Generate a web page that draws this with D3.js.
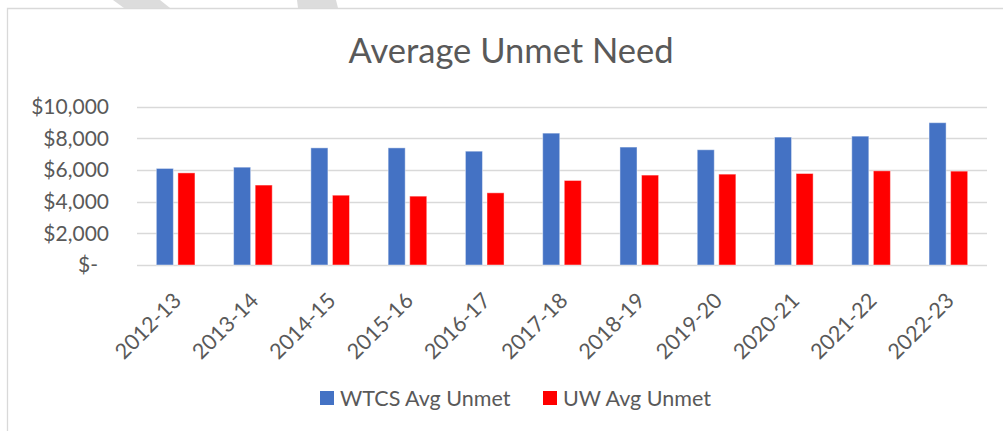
<!DOCTYPE html>
<html>

<head>
    <meta charset="utf-8">
    <style>
    body { margin: 0; background: #fff; }
    svg text { font-family: Lato, "Open Sans", sans-serif; fill: #595959; }
    .grid line { stroke: #d9d9d9; stroke-width: 1.3px; }
    </style>
</head>

<body>
    <script src="https://d3js.org/d3.v7.min.js"></script>
    <script>
    var width = 1003, height = 431;

    // data
    var years = ["2012-13", "2013-14", "2014-15", "2015-16", "2016-17", "2017-18",
                 "2018-19", "2019-20", "2020-21", "2021-22", "2022-23"];
    var wtcs = [6100, 6180, 7400, 7400, 7190, 8330, 7450, 7280, 8080, 8140, 8990];
    var uw = [5820, 5050, 4410, 4350, 4560, 5340, 5680, 5740, 5780, 5950, 5930];
    var seriesNames = ["WTCS Avg Unmet", "UW Avg Unmet"];
    var seriesColors = ["#4472c4", "#ff0000"];
    var yTicks = [0, 2000, 4000, 6000, 8000, 10000];

    var svg = d3.select("body").append("svg")
        .attr("width", width)
        .attr("height", height);

    // grey marks sticking out above the chart frame
    svg.append("polygon").attr("points", "113,0 160,0 170,8 124,8").attr("fill", "#dcdcdc");
    svg.append("polygon").attr("points", "297,0 336,0 338,8 298,8").attr("fill", "#dcdcdc");

    // chart frame (left and top edges visible)
    svg.append("path")
        .attr("d", "M7.5,431V8.5H1003")
        .attr("fill", "none")
        .attr("stroke", "#d9d9d9")
        .attr("stroke-width", 1.3);

    svg.append("text")
        .attr("x", 511)
        .attr("y", 63)
        .attr("text-anchor", "middle")
        .style("font-size", "34.5px")
        .text("Average Unmet Need");

    var x0 = d3.scaleBand()
        .domain(years)
        .range([137, 987])
        .paddingInner(0.5)
        .paddingOuter(0.25);

    var x1 = d3.scaleBand()
        .domain([0, 1])
        .range([0, x0.bandwidth()])
        .paddingInner(0.21);

    var y = d3.scaleLinear()
        .domain([0, 10000])
        .range([265, 106.7]);

    // gridlines
    svg.append("g")
        .attr("class", "grid")
        .selectAll("line")
        .data(yTicks)
        .enter().append("line")
        .attr("x1", 137)
        .attr("x2", 987)
        .attr("y1", function(d) { return Math.round(y(d)) + 0.5; })
        .attr("y2", function(d) { return Math.round(y(d)) + 0.5; });

    // y axis labels
    var yAxis = svg.append("g")
        .attr("transform", "translate(109,0)")
        .call(d3.axisLeft(y)
            .tickValues(yTicks)
            .tickSize(0)
            .tickPadding(0)
            .tickFormat(function(d) { return d === 0 ? "$-" : "$" + d3.format(",")(d); }));
    yAxis.select(".domain").remove();
    yAxis.selectAll("text")
        .style("font-size", "21px")
        .attr("fill", "#595959")
        .attr("font-family", null)
        .attr("x", function(d) { return d === 0 ? -11 : 0; });

    // bars
    var rows = years.map(function(yr, i) { return { year: yr, values: [wtcs[i], uw[i]] }; });

    svg.append("g")
        .selectAll("g")
        .data(rows)
        .enter().append("g")
        .attr("transform", function(d) { return "translate(" + x0(d.year) + ",0)"; })
        .selectAll("rect")
        .data(function(d) { return d.values.map(function(v, k) { return { k: k, v: v }; }); })
        .enter().append("rect")
        .attr("x", function(d) { return x1(d.k); })
        .attr("width", x1.bandwidth())
        .attr("y", function(d) { return y(d.v); })
        .attr("height", function(d) { return y(0) - y(d.v); })
        .attr("fill", function(d) { return seriesColors[d.k]; })
        .attr("stroke", "#ffffff")
        .attr("stroke-opacity", 0.45)
        .attr("stroke-width", 1);

    // x axis labels, rotated
    var xAxis = svg.append("g")
        .attr("transform", "translate(0,265)")
        .call(d3.axisBottom(x0).tickSize(0).tickPadding(0));
    xAxis.select(".domain").remove();
    xAxis.selectAll("text")
        .attr("fill", "#595959")
        .attr("font-family", null)
        .style("font-size", "21.5px")
        .attr("text-anchor", "end")
        .attr("dy", null)
        .attr("y", null)
        .attr("transform", "translate(7,37) rotate(-45)");

    // legend
    var legendX = [320, 543];
    var legend = svg.append("g")
        .selectAll("g")
        .data(seriesNames)
        .enter().append("g")
        .attr("transform", function(d, i) { return "translate(" + legendX[i] + ",391)"; });
    legend.append("rect")
        .attr("width", 14)
        .attr("height", 14)
        .attr("fill", function(d, i) { return seriesColors[i]; });
    legend.append("text")
        .attr("x", 20)
        .attr("y", 7)
        .attr("dy", "0.35em")
        .style("font-size", "21.5px")
        .text(function(d) { return d; });
    </script>
</body>

</html>
